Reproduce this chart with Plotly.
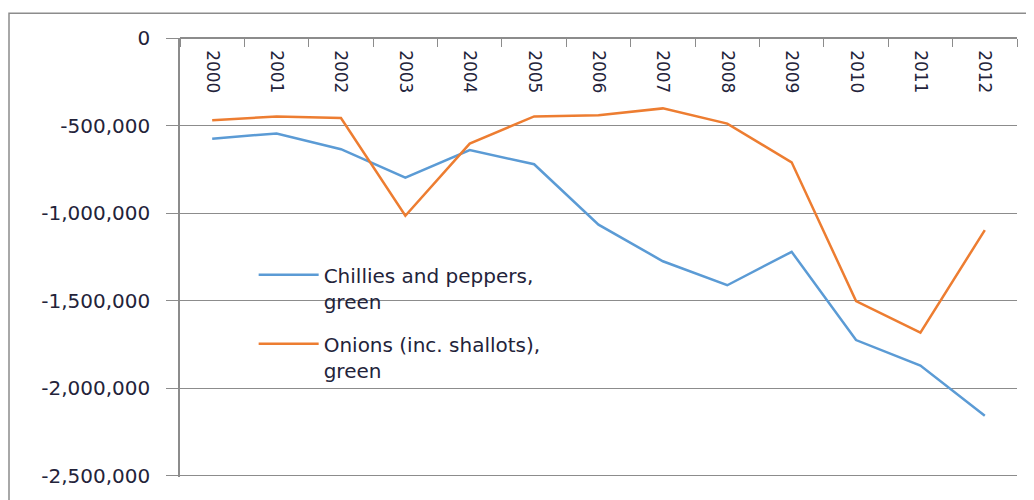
import plotly.graph_objects as go

years = [str(y) for y in range(2000, 2013)]

chillies = [-575000, -545000, -635000, -798000, -640000, -721000, -1066000,
            -1275000, -1412000, -1221000, -1725000, -1871000, -2157000]
onions = [-470000, -448000, -457000, -1015000, -603000, -448000, -441000,
          -402000, -489000, -710000, -1502000, -1683000, -1097000]

y_ticks = [0, -500000, -1000000, -1500000, -2000000, -2500000]
y_labels = [f"{v:,}" for v in y_ticks]

font = "DejaVu Sans"
text_col = "#23233a"
grid_col = "#8c8c8c"

fig = go.Figure()
fig.add_trace(go.Scatter(
    x=years, y=chillies, mode="lines", name="Chillies and peppers,<br>green",
    line=dict(color="#5B9BD5", width=2.5), legendgroup="a"))
fig.add_trace(go.Scatter(
    x=years, y=onions, mode="lines", name="Onions (inc. shallots),<br>green",
    line=dict(color="#ED7D31", width=2.5), legendgroup="b"))

# category axis sits on the zero line at the top, labels hang below it
fig.update_xaxes(
    type="category", side="bottom", anchor="free", position=1,
    range=[-0.5, len(years) - 0.5],
    tickangle=90, ticks="outside", ticklen=8, tickcolor=grid_col,
    ticklabelstandoff=8,
    tickson="boundaries", showline=True, linecolor=grid_col, linewidth=1.5,
    showgrid=False, tickfont=dict(family=font, size=17, color=text_col),
)
# small overshoot so the -2,500,000 gridline is still drawn at the bottom edge
fig.update_yaxes(
    range=[-2507000, 0], tickvals=y_ticks, ticktext=y_labels,
    ticks="outside", ticklen=12, tickcolor=grid_col, ticklabelstandoff=12,
    showline=True, linecolor=grid_col, linewidth=1.5,
    showgrid=True, gridcolor=grid_col, gridwidth=1.2, zeroline=False,
    tickfont=dict(family=font, size=20, color=text_col),
)

fig.update_layout(
    width=1026, height=492,
    margin=dict(l=172, r=17, t=30, b=18),
    paper_bgcolor="white", plot_bgcolor="white",
    showlegend=True,
    legend=dict(
        x=0.088, y=0.505, xanchor="left", yanchor="top",
        bgcolor="rgba(0,0,0,0)", valign="top", itemwidth=60,
        traceorder="grouped", tracegroupgap=14,
        font=dict(family=font, size=20, color=text_col),
    ),
    shapes=[dict(
        type="rect", xref="paper", yref="paper",
        x0=-0.2043, x1=1.03, y0=-0.06, y1=1.0564,
        line=dict(color="#8c8c8c", width=1.5), layer="below",
    )],
)

fig.write_html("out.html")
